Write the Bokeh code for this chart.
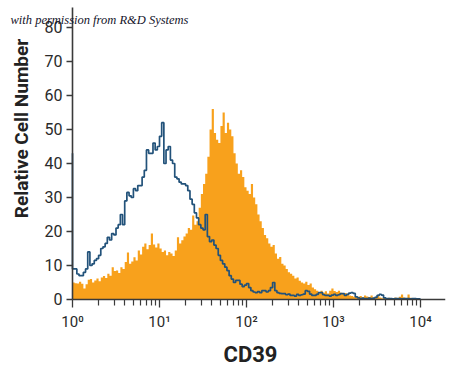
import numpy as np
from bokeh.plotting import figure
from bokeh.models import Range1d, FixedTicker, Label, LinearAxis
from bokeh.embed import file_html
from bokeh.resources import INLINE

# ---------------- data ----------------
x_label = "CD39"
y_label = "Relative Cell Number"
credit = "with permission from R&D Systems"
decade_ticks = [0, 1, 2, 3, 4]
decade_labels = ["10\u2070", "10\u00b9", "10\u00b2", "10\u00b3", "10\u2074"]
y_ticks = [0, 10, 20, 30, 40, 50, 60, 70, 80]
log_min, log_max = 0.0, 4.0   # histogram channel range, log10 units

# CD39 antibody stained cells (orange, filled)
cd39 = [
    5.0, 4.8, 4.7, 5.2, 4.6, 3.2, 4.5, 5.8, 6.0, 5.0,
    5.6, 6.2, 5.4, 6.5, 6.9, 6.3, 7.6, 7.0, 9.5, 8.4,
    8.5, 7.8, 9.5, 9.0, 11.0, 13.8, 10.5, 11.2, 12.4, 11.5,
    14.4, 13.2, 15.5, 16.5, 14.8, 16.0, 19.4, 16.2, 15.3, 16.5,
    15.0, 14.0, 14.4, 13.0, 14.0, 13.5, 12.8, 14.4, 18.3, 16.5,
    17.4, 18.5, 19.4, 21.0, 20.5, 24.7, 22.0, 23.0, 27.0, 31.0,
    34.0, 37.0, 42.0, 50.0, 56.0, 49.0, 47.0, 46.0, 51.0, 55.0,
    49.0, 52.0, 50.0, 48.0, 43.0, 40.0, 37.0, 38.0, 36.0, 33.0,
    32.0, 31.0, 34.0, 30.0, 28.0, 25.0, 23.0, 21.0, 19.0, 18.0,
    16.5, 15.5, 16.0, 13.5, 12.0, 12.5, 10.5, 10.0, 9.0, 8.0,
    7.6, 7.0, 6.2, 6.5, 5.5, 5.0, 4.7, 5.2, 4.3, 4.7,
    3.5, 3.0, 2.6, 2.2, 2.6, 2.0, 2.4, 1.8, 2.6, 3.2,
    2.5, 2.2, 2.6, 2.0, 1.6, 1.9, 1.7, 1.2, 1.0, 0.8,
    0.6, 0.8, 1.0, 0.6, 1.2, 0.9, 0.7, 1.2, 0.5, 0.8,
    1.2, 0.6, 0.4, 0.6, 0.3, 0.5, 0.3, 0.3, 0.6, 0.4,
    0.8, 1.5, 0.6, 0.4, 1.5, 0.5, 0.3, 0.3, 0.2, 0.1,
]

# isotype control (blue outline)
isotype_first_channel = 43.0
isotype = [
    9.0, 9.0, 7.5, 7.0, 7.0, 8.0, 9.0, 14.0, 10.0, 10.5,
    11.5, 12.0, 13.0, 15.0, 15.5, 16.5, 18.3, 17.5, 19.4, 19.0,
    21.0, 22.0, 25.0, 22.0, 29.0, 31.5, 30.5, 30.0, 32.6, 32.0,
    33.5, 33.5, 36.0, 38.0, 44.0, 43.0, 43.0, 46.0, 44.0, 45.0,
    48.0, 52.0, 40.0, 44.0, 45.0, 41.0, 40.0, 36.0, 35.5, 34.5,
    34.0, 34.0, 33.5, 32.0, 29.5, 28.0, 25.5, 24.0, 22.0, 21.0,
    20.5, 25.0, 18.5, 17.0, 17.5, 16.0, 15.0, 13.0, 11.5, 10.5,
    9.5, 8.5, 7.0, 6.0, 5.0, 5.6, 5.6, 4.5, 3.8, 4.2,
    4.7, 3.5, 2.6, 2.2, 2.0, 2.3, 2.0, 2.6, 2.6, 2.2,
    2.6, 3.5, 5.0, 2.6, 2.0, 1.8, 1.7, 1.7, 1.4, 1.6,
    1.2, 1.2, 1.0, 1.5, 1.2, 1.4, 1.6, 2.6, 2.4, 1.6,
    1.2, 1.2, 1.5, 2.0, 2.0, 1.4, 1.2, 1.2, 1.0, 1.3,
    1.5, 1.2, 1.4, 1.7, 1.7, 1.2, 1.5, 1.9, 2.0, 1.8,
    0.8, 0.5, 0.3, 0.4, 0.3, 0.3, 0.4, 0.3, 0.4, 0.6,
    1.2, 1.5, 1.3, 0.5, 0.3, 0.3, 0.3, 0.2, 0.3, 0.3,
    0.3, 0.2, 0.3, 0.3, 0.3, 0.2, 0.3, 0.3, 0.2, 0.2,
]

# ---------------- figure ----------------
x_end = 4.287
y_top = 85.9
p = figure(width=450, height=367, output_backend="svg", toolbar_location=None,
           x_range=Range1d(-0.8276, x_end), y_range=Range1d(-20.0, 87.94),
           x_axis_location=None, y_axis_location=None,
           min_border_left=0, min_border_right=5, min_border_top=0,
           min_border_bottom=0)
p.outline_line_color = None
p.grid.visible = False
p.background_fill_color = "white"

edges = np.linspace(log_min, log_max, len(cd39) + 1)
sx = np.repeat(edges, 2)[1:-1]
sy_cd39 = np.repeat(np.array(cd39), 2)
sy_iso = np.repeat(np.array(isotype), 2)

p.varea(x=sx, y1=np.zeros_like(sx), y2=sy_cd39, fill_color="#f8a11c")

bx = np.concatenate([[edges[0]], sx])
by = np.concatenate([[isotype_first_channel], sy_iso])
p.line(bx, by, line_color="#22527a", line_width=1.7)

axis_col = "#3a3a3a"

xa = LinearAxis(fixed_location=0, bounds=(0, x_end),
                ticker=FixedTicker(ticks=decade_ticks,
                                   minor_ticks=[d + np.log10(k) for d in decade_ticks[:-1]
                                                for k in range(2, 10)]))
xa.major_label_overrides = {t: l for t, l in zip(decade_ticks, decade_labels)}
xa.major_tick_out = 8
xa.major_tick_in = 0
xa.minor_tick_out = 6
xa.minor_tick_in = 0
xa.major_label_standoff = 6
xa.major_label_text_font_size = "15px"
xa.minor_tick_line_color = axis_col
xa.minor_tick_line_width = 1.2
p.add_layout(xa, "below")

ya = LinearAxis(fixed_location=0, bounds=(0, y_top), ticker=FixedTicker(ticks=y_ticks))
ya.major_tick_out = 6
ya.major_tick_in = 0
ya.minor_tick_line_color = None
ya.major_label_standoff = 4
ya.major_label_text_font_size = "16px"
p.add_layout(ya, "left")

for ax in (xa, ya):
    ax.axis_line_color = axis_col
    ax.axis_line_width = 1.6
    ax.major_tick_line_color = axis_col
    ax.major_tick_line_width = 1.3
    ax.major_label_text_color = "#2a2a2a"
    ax.major_label_text_font = "Roboto"

p.add_layout(Label(x=-0.713, y=82.1, text=credit,
                   text_align="left", text_baseline="alphabetic",
                   text_font="Liberation Serif", text_font_style="italic",
                   text_font_size="12.5px", text_color="#14142a"))
p.add_layout(Label(x=-0.586, y=50.3, text=y_label, angle=np.pi / 2,
                   text_align="center", text_baseline="middle",
                   text_font="Roboto", text_font_style="bold",
                   text_font_size="19px", text_color="#222222"))
p.add_layout(Label(x=1.736, y=-16.2, text=x_label,
                   text_align="left", text_baseline="middle",
                   text_font="Roboto", text_font_style="bold",
                   text_font_size="22px", text_color="#222222"))

open("out.html", "w").write(file_html(p, INLINE))
